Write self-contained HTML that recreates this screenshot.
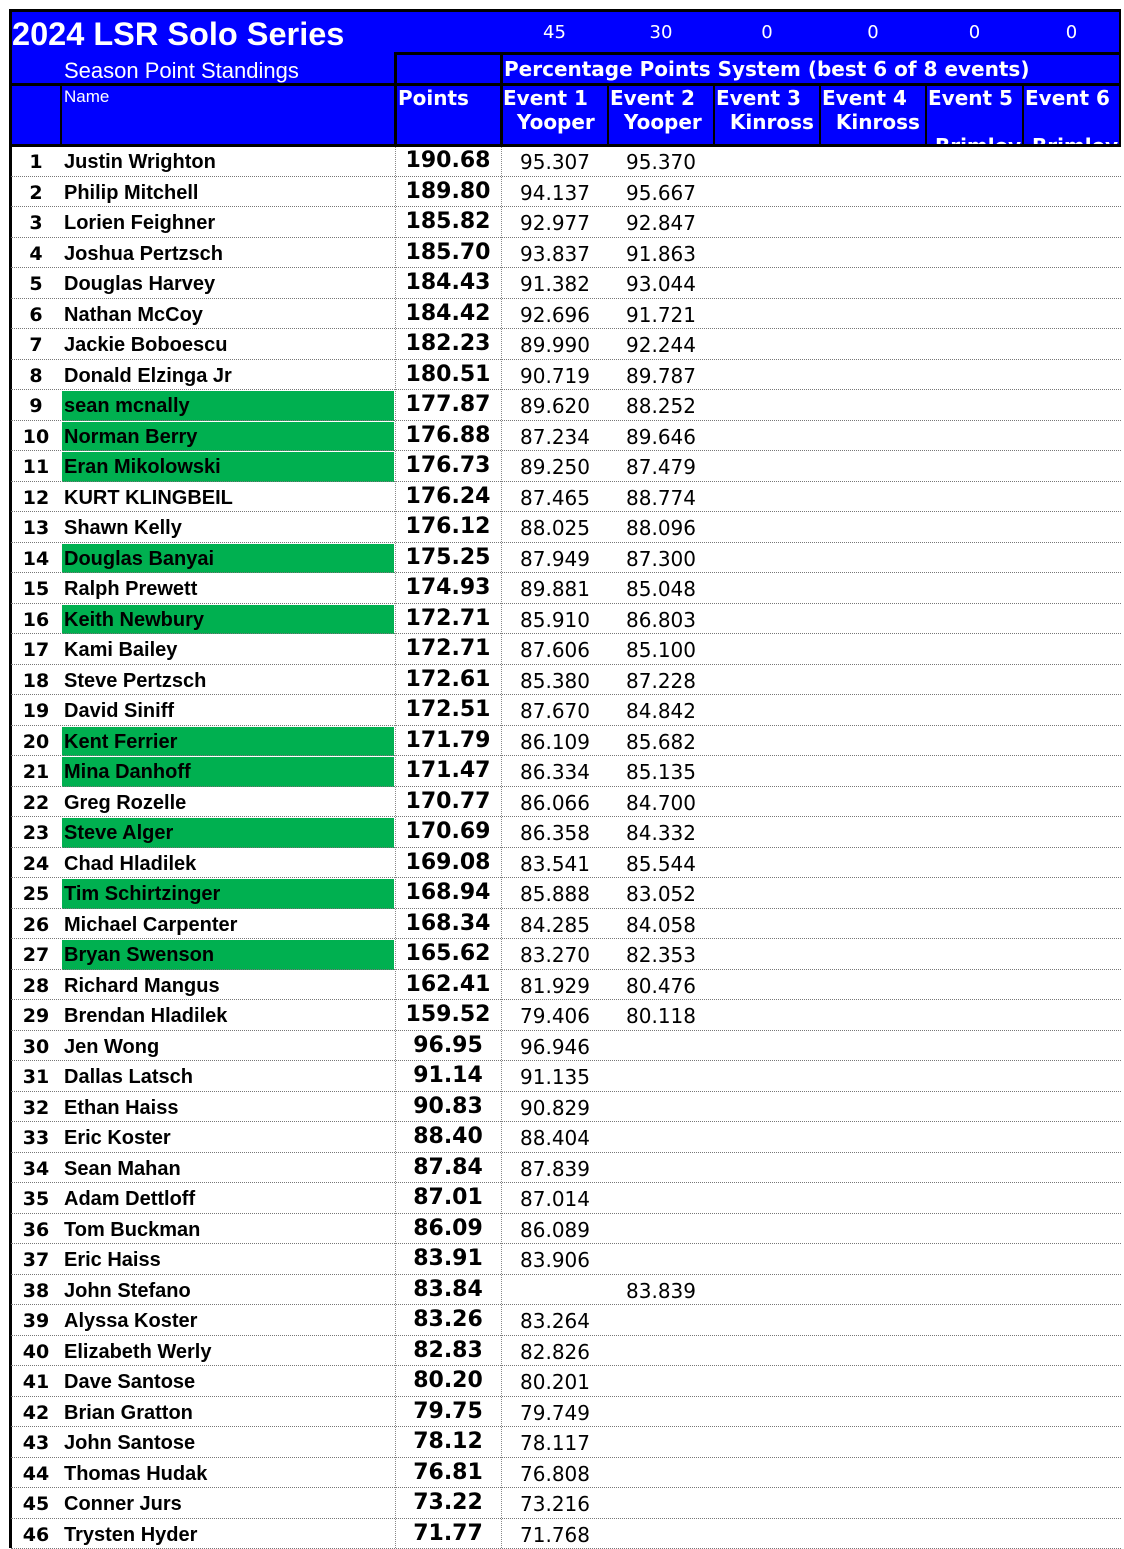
<!DOCTYPE html>
<html><head><meta charset="utf-8">
<style>
*{margin:0;padding:0;box-sizing:border-box}
body{width:1124px;height:1548px;background:#fff;position:relative;overflow:hidden;font-family:"Liberation Sans",sans-serif}
.a{position:absolute}
.blue{background:#0000ff;color:#fff}
.blk{background:#000}
.hd{font-family:"DejaVu Sans",sans-serif;font-weight:bold;font-size:20px;color:#fff;line-height:24px;white-space:pre}
.rk{font-family:"DejaVu Sans",sans-serif;font-weight:bold;font-size:19px;width:50px;text-align:center;left:11px}
.nm{font-weight:bold;font-size:20px;left:64px;white-space:nowrap}
.pt{font-family:"DejaVu Sans",sans-serif;font-weight:bold;font-size:22px;left:396px;width:104px;text-align:center}
.ev{font-family:"DejaVu Sans",sans-serif;font-size:20px;text-align:right;width:100px}
.hl{height:0;border-top:1px dotted #777;left:11px;width:1110px}
.vl{width:0;border-left:1px dotted #888;top:147px;height:1401px}
</style></head><body>
<div class="a blue" style="left:9px;top:9px;width:1112px;height:138px"></div>
<div class="a blk" style="left:9px;top:9px;width:1112px;height:3px"></div>
<div class="a blk" style="left:394px;top:52px;width:727px;height:3px"></div>
<div class="a blk" style="left:9px;top:83px;width:1112px;height:3px"></div>
<div class="a blk" style="left:9px;top:144px;width:1112px;height:3px"></div>
<div class="a blk" style="left:9px;top:9px;width:3px;height:1539px"></div>
<div class="a blk" style="left:1119px;top:9px;width:2px;height:138px"></div>
<div class="a blk" style="left:394px;top:52px;width:3px;height:95px"></div>
<div class="a blk" style="left:500px;top:52px;width:3px;height:95px"></div>
<div class="a blk" style="left:60px;top:84px;width:2px;height:62px"></div>
<div class="a blk" style="left:607px;top:84px;width:2px;height:62px"></div>
<div class="a blk" style="left:713px;top:84px;width:2px;height:62px"></div>
<div class="a blk" style="left:819px;top:84px;width:2px;height:62px"></div>
<div class="a blk" style="left:925px;top:84px;width:2px;height:62px"></div>
<div class="a blk" style="left:1022px;top:84px;width:2px;height:62px"></div>
<div class="a" style="left:12px;top:14px;font-size:32.5px;font-weight:bold;color:#fff;line-height:40px">2024 LSR Solo Series</div>
<div class="a" style="left:64px;top:57px;font-size:22px;color:#fff;line-height:27px">Season Point Standings</div>
<div class="a hd" style="left:504px;top:57px;font-size:20px">Percentage Points System (best 6 of 8 events)</div>
<div class="a" style="left:64px;top:87px;font-size:17px;color:#fff">Name</div>
<div class="a hd" style="left:398px;top:86px">Points</div>
<div id="wt"></div>
<div id="rows"></div>
<script>
const weights=[45,30,0,0,0,0];
const evHeads=[["Event 1","  Yooper"],["Event 2","  Yooper"],["Event 3","  Kinross"],["Event 4","  Kinross"],["Event 5","\n Brimley"],["Event 6","\n Brimley"]];
const names=["Justin Wrighton","Philip Mitchell","Lorien Feighner","Joshua Pertzsch","Douglas Harvey","Nathan McCoy","Jackie Boboescu","Donald Elzinga Jr","sean mcnally","Norman Berry","Eran Mikolowski","KURT KLINGBEIL","Shawn Kelly","Douglas Banyai","Ralph Prewett","Keith Newbury","Kami Bailey","Steve Pertzsch","David Siniff","Kent Ferrier","Mina Danhoff","Greg Rozelle","Steve Alger","Chad Hladilek","Tim Schirtzinger","Michael Carpenter","Bryan Swenson","Richard Mangus","Brendan Hladilek","Jen Wong","Dallas Latsch","Ethan Haiss","Eric Koster","Sean Mahan","Adam Dettloff","Tom Buckman","Eric Haiss","John Stefano","Alyssa Koster","Elizabeth Werly","Dave Santose","Brian Gratton","John Santose","Thomas Hudak","Conner Jurs","Trysten Hyder"];
const points=["190.68","189.80","185.82","185.70","184.43","184.42","182.23","180.51","177.87","176.88","176.73","176.24","176.12","175.25","174.93","172.71","172.71","172.61","172.51","171.79","171.47","170.77","170.69","169.08","168.94","168.34","165.62","162.41","159.52","96.95","91.14","90.83","88.40","87.84","87.01","86.09","83.91","83.84","83.26","82.83","80.20","79.75","78.12","76.81","73.22","71.77"];
const event1=["95.307","94.137","92.977","93.837","91.382","92.696","89.990","90.719","89.620","87.234","89.250","87.465","88.025","87.949","89.881","85.910","87.606","85.380","87.670","86.109","86.334","86.066","86.358","83.541","85.888","84.285","83.270","81.929","79.406","96.946","91.135","90.829","88.404","87.839","87.014","86.089","83.906","","83.264","82.826","80.201","79.749","78.117","76.808","73.216","71.768"];
const event2=["95.370","95.667","92.847","91.863","93.044","91.721","92.244","89.787","88.252","89.646","87.479","88.774","88.096","87.300","85.048","86.803","85.100","87.228","84.842","85.682","85.135","84.700","84.332","85.544","83.052","84.058","82.353","80.476","80.118","","","","","","","","","83.839","","","","","","","",""];
const green=[9,10,11,14,16,20,21,23,25,27];
const colL=[502,609,715,821,927,1024];
const colW=[105,104,104,104,95,95];
const wt=document.getElementById('wt');
weights.forEach((w,i)=>{
 const d=document.createElement('div');
 
 
 d.className='a';d.style.cssText=`left:${colL[i]}px;top:21px;width:${colW[i]}px;text-align:center;color:#fff;font-family:"DejaVu Sans",sans-serif;font-size:18px;line-height:24px`;
 d.textContent=w;wt.appendChild(d);
 const h=document.createElement('div');
 
 
 h.className='a hd';h.style.cssText+=`;left:${colL[i]+1}px;top:86px;width:${colW[i]-2}px;height:58px;overflow:hidden`;
 h.textContent=evHeads[i][0]+"\n"+evHeads[i][1];wt.appendChild(h);
});
const R=document.getElementById('rows');
const RH=30.5,T0=146;
let html='';
names.forEach((n,i)=>{
 const top=T0+i*RH;
 if(green.includes(i+1)) html+=`<div class="a" style="left:62px;top:${top+1}px;width:332px;height:${RH-1}px;background:#00b050"></div>`;
 html+=`<div class="a hl" style="top:${top+RH-1}px"></div>`;
 html+=`<div class="a rk" style="top:${top+5}px">${i+1}</div>`;
 html+=`<div class="a nm" style="top:${top+5}px">${n}</div>`;
 html+=`<div class="a pt" style="top:${top+2}px">${points[i]}</div>`;
 html+=`<div class="a ev" style="left:490px;top:${top+4}px">${event1[i]}</div>`;
 html+=`<div class="a ev" style="left:596px;top:${top+4}px">${event2[i]}</div>`;
});
html+=`<div class="a vl" style="left:395px"></div><div class="a vl" style="left:501px"></div>`;
R.innerHTML=html;
</script>
</body></html>
